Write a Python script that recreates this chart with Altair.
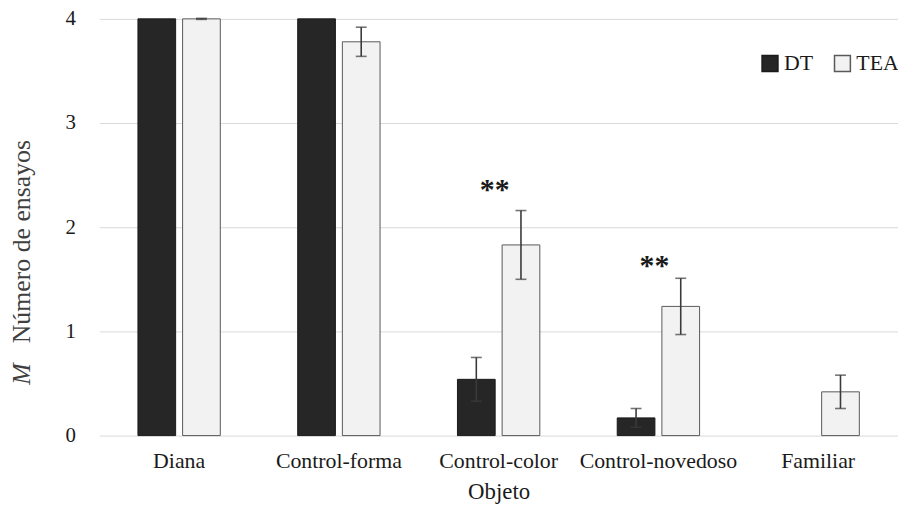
import altair as alt
import pandas as pd

cats = ["Diana", "Control-forma", "Control-color", "Control-novedoso", "Familiar"]
groups = ["DT", "TEA"]
dt_mean = [4.0, 4.0, 0.54, 0.17, 0.0]
dt_err = [0.0, 0.0, 0.21, 0.09, 0.0]
tea_mean = [4.0, 3.78, 1.83, 1.24, 0.42]
tea_err = [0.005, 0.14, 0.33, 0.27, 0.16]

ast_cats = ["Control-color", "Control-novedoso"]
ast_y = [2.27, 1.54]
ast_text = ["**", "**"]

rows = []
for i, c in enumerate(cats):
    for g, m, e in (("DT", dt_mean[i], dt_err[i]), ("TEA", tea_mean[i], tea_err[i])):
        rows.append(dict(cat=c, group=g, mean=m, err=e, lo=m - e, hi=m + e))
df = pd.DataFrame(rows)
ast_df = pd.DataFrame({"cat": ast_cats, "y": ast_y, "text": ast_text})

FONT = "Liberation Serif"

xscale = alt.Scale(domain=cats, paddingInner=0.4845, paddingOuter=0.242)
xaxis = alt.Axis(
    title="Objeto", labelAngle=0, domain=False, ticks=False,
    labelFont=FONT, labelFontSize=22, labelColor="#1a1a1a", labelPadding=15,
    titleFont=FONT, titleFontSize=23, titleFontWeight="normal", titleColor="#1a1a1a",
    titlePadding=9,
)
yscale = alt.Scale(domain=[0, 4], nice=False)
yaxis = alt.Axis(
    values=[0, 1, 2, 3, 4], grid=True, gridColor="#d9d9d9", gridWidth=1,
    domain=False, ticks=False,
    labelFont=FONT, labelFontSize=21, labelColor="#1a1a1a", labelPadding=24,
    title="Número de ensayos", titleFont=FONT, titleFontSize=26,
    titleFontWeight="normal", titleColor="#404040",
    titleAngle=270, titleX=-78, titleY=224, titleAlign="center", titleBaseline="middle",
)

def X():
    return alt.X("cat:N", sort=cats, scale=xscale, axis=xaxis)

def XO():
    return alt.XOffset("group:N", sort=groups,
                       scale=alt.Scale(domain=groups, paddingInner=0.156, paddingOuter=0))

def Y(field):
    return alt.Y(field, scale=yscale, axis=yaxis)

base = alt.Chart(df)

bars = base.transform_filter("datum.mean > 0").mark_bar(strokeWidth=1).encode(
    x=X(), xOffset=XO(), y=Y("mean:Q"),
    color=alt.Color(
        "group:N",
        scale=alt.Scale(domain=groups, range=["#262626", "#f2f2f2"]),
        legend=alt.Legend(
            title=None, orient="none", legendX=665, legendY=34, direction="horizontal",
            symbolType="square", symbolSize=256, symbolStrokeColor="#404040",
            symbolStrokeWidth=1.5, labelFont=FONT, labelFontSize=22,
            labelColor="#1a1a1a", labelOffset=3, columnPadding=18, padding=0,
        ),
    ),
    stroke=alt.Stroke("group:N", scale=alt.Scale(domain=groups, range=["#1a1a1a", "#595959"]),
                      legend=None),
)

errs = base.transform_filter("datum.err > 0")
rules = errs.mark_rule(color="#3a3a3a", strokeWidth=1.6).encode(
    x=X(), xOffset=XO(), y=Y("lo:Q"), y2="hi:Q"
)
caps_hi = errs.mark_tick(orient="horizontal", size=11, thickness=1.6, color="#3a3a3a").encode(
    x=X(), xOffset=XO(), y=Y("hi:Q")
)
caps_lo = errs.mark_tick(orient="horizontal", size=11, thickness=1.6, color="#3a3a3a").encode(
    x=X(), xOffset=XO(), y=Y("lo:Q")
)

ast = alt.Chart(ast_df).mark_text(
    font=FONT, fontSize=30, fontWeight="bold", baseline="alphabetic", dx=-4, color="#1a1a1a"
).encode(x=X(), y=Y("y:Q"), text="text:N")

mtext = alt.Chart(pd.DataFrame({"t": ["M"]})).mark_text(
    font=FONT, fontSize=26, fontStyle="italic", angle=270, baseline="middle",
    align="center", color="#404040"
).encode(x=alt.value(-78), y=alt.value(358), text="t:N")

chart = alt.layer(bars, rules, caps_hi, caps_lo, ast, mtext).properties(
    width=805, height=420,
    autosize=alt.AutoSizeParams(type="none"),
    padding={"left": 92, "top": 9, "right": 0, "bottom": 67},
).configure(
    font=FONT,
    style={"guide-label": {"font": FONT}, "guide-title": {"font": FONT}},
).configure_axis(
    labelFont=FONT, titleFont=FONT
).configure_legend(labelFont=FONT).configure_view(stroke=None)

chart.save("out.html", embed_options={"renderer": "svg", "actions": False})
